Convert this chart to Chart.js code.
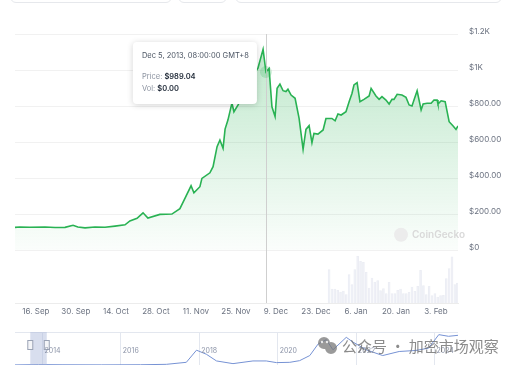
<!DOCTYPE html>
<html>
<head>
<meta charset="utf-8">
<script src="https://cdn.jsdelivr.net/npm/chart.js@4.4.0/dist/chart.umd.min.js"></script>
<style>
  html, body { margin: 0; padding: 0; background: #fff; }
  #wrap { position: relative; width: 508px; height: 365px; overflow: hidden; }
  #priceChart { position: absolute; left: 0; top: 0; }
  #navChart { position: absolute; left: 0; top: 322px; }
  .btn { position: absolute; top: -20px; height: 21px; border: 1px solid #e6e8ec; border-radius: 6px; }
</style>
</head>
<body>
<div id="wrap">
  <div class="btn" style="left:10px; width:160px"></div>
  <div class="btn" style="left:178px; width:47px"></div>
  <div class="btn" style="left:235px; width:265px"></div>
  <canvas id="priceChart" width="508" height="322"></canvas>
  <canvas id="navChart" width="508" height="43"></canvas>
</div>
<script>
// day offsets counted from 16 Sep 2013
const priceDays = [-7.3, -5.6, -2.1, 3.2, 6.7, 10.2, 13, 14.7, 17.2, 20.7, 24.2, 27.7, 31.2, 32.9, 35.4, 37.5, 39.2, 43.4, 47.6, 50.4,
  52.2, 54.3, 55.3, 57.4, 58.1, 60.9, 62, 63.4, 64.4, 65.5, 66.2, 67.2, 68.6, 69.3, 70.7, 73.2, 75.6, 77.7, 79.5, 80.5,
  81.6, 82.6, 83.7, 84.4, 85.4, 86.5, 87.5, 88.2, 89.3, 90.7, 92.1, 93.5, 94.5, 95.6, 96.6, 97.3, 98.7, 100.5, 101.5, 103.6,
  104.7, 105.7, 106.8, 108.5, 109.6, 110.6, 111.3, 112.4, 113.4, 114.8, 116.6, 117.3, 119, 120.1, 121.1, 122.5, 123.6, 124.6, 125.3, 126.4,
  128.1, 129.5, 130.6, 131.6, 132.3, 133.4, 134.8, 135.5, 136.9, 138.3, 139.3, 140.4, 140.7, 141.8, 143.2, 144.6, 146, 147, 147.7];
const prices = [126, 128, 127, 128, 125, 126, 138, 128, 123, 128, 127, 133, 140, 162, 176, 207, 178, 198, 200, 230,
  289, 357, 318, 352, 398, 429, 463, 574, 611, 565, 672, 722, 817, 768, 805, 880, 960, 1010, 1115, 989.04,
  1009, 796, 741, 898, 922, 885, 880, 893, 861, 843, 731, 559, 670, 691, 596, 648, 644, 667, 731, 731,
  718, 756, 750, 768, 824, 870, 917, 930, 824, 837, 856, 898, 856, 837, 852, 833, 811, 837, 837, 865,
  861, 848, 806, 800, 833, 885, 778, 811, 815, 815, 833, 833, 811, 829, 824, 713, 689, 670, 689];

const volDays = [102.6, 103.6, 104.6, 105.6, 106.6, 107.6, 108.6, 109.6, 110.6, 111.6, 112.6, 113.6, 114.6, 115.6, 116.6, 117.6,
  118.6, 119.6, 120.6, 121.6, 122.6, 123.6, 124.6, 125.6, 126.6, 127.6, 128.6, 129.6, 130.6, 131.6, 132.6, 133.6,
  134.6, 135.6, 136.6, 137.6, 138.6, 139.6, 140.6, 141.6, 142.6, 143.6, 144.6, 145.6, 146.6, 147.4];
const volumes = [100, 42, 42, 38, 33, 36, 25, 85, 55, 100, 140, 125, 122, 92, 45, 75,
  63, 67, 37, 43, 28, 62, 28, 28, 38, 42, 28, 28, 32, 48, 35, 50,
  98, 52, 25, 50, 22, 28, 18, 22, 23, 73, 103, 138, 55, 60];

const xTickDays = [0, 14, 28, 42, 56, 70, 84, 98, 112, 126, 140];
const xTickLabels = ['16. Sep', '30. Sep', '14. Oct', '28. Oct', '11. Nov', '25. Nov', '9. Dec', '23. Dec', '6. Jan', '20. Jan', '3. Feb'];
const yTickValues = [0, 200, 400, 600, 800, 1000, 1200];
const yTickLabels = ['$0', '$200.00', '$400.00', '$600.00', '$800.00', '$1K', '$1.2K'];

const hoverIndex = 39;
const tooltipDate = 'Dec 5, 2013, 08:00:00 GMT+8';
const tooltipPrice = '$989.04';
const tooltipVol = '$0.00';

// navigator (whole history)
const navYears = [2013.3, 2013.9, 2014.5, 2015.5, 2016.5, 2017.16, 2017.67, 2017.93, 2018.18, 2018.44, 2018.86, 2019.37, 2019.71, 2019.97,
  2020.31, 2020.56, 2020.82, 2021.03, 2021.24, 2021.41, 2021.75, 2021.92, 2022.26, 2022.68, 2023.1, 2023.52, 2023.85, 2024.11, 2024.36, 2024.6];
const navValues = [0.2, 0.9, 0.5, 0.3, 0.6, 1.5, 6.1, 33.7, 24.5, 9.2, 3.1, 9.2, 9.2, 5.4,
  6.1, 9.9, 21.5, 47.5, 57.5, 34.5, 62.9, 52.1, 34.5, 21.5, 30.7, 33, 38.3, 69, 65.2, 67.5];
const navTickYears = [2014, 2016, 2018, 2020, 2022, 2024];
const navRange = [2013.69, 2014.11];

const GREEN = 'rgb(41,178,83)';
Chart.defaults.font.family = 'Inter, "Noto Sans", sans-serif';
Chart.defaults.font.size = 8;
Chart.defaults.color = '#6b7280';

/* crosshair, hover dot, watermark and the fixed tooltip */
const overlayPlugin = {
  id: 'overlay',
  afterDatasetsDraw(chart) {
    const { ctx, chartArea, scales } = chart;
    const px = scales.x.getPixelForValue(priceDays[hoverIndex]);
    const py = scales.y.getPixelForValue(prices[hoverIndex]);
    ctx.save();
    ctx.strokeStyle = '#cfcfcf';
    ctx.lineWidth = 1;
    ctx.beginPath();
    ctx.moveTo(Math.round(px) + 0.5, chartArea.top);
    ctx.lineTo(Math.round(px) + 0.5, chartArea.bottom);
    ctx.stroke();
    ctx.fillStyle = 'rgba(41,178,83,0.22)';
    ctx.beginPath();
    ctx.arc(px, py, 6, 0, Math.PI * 2);
    ctx.fill();

    // CoinGecko watermark
    const wy = scales.y.getPixelForValue(85);
    ctx.fillStyle = '#ececec';
    ctx.beginPath();
    ctx.arc(401, wy, 7, 0, Math.PI * 2);
    ctx.fill();
    ctx.fillStyle = '#d9d9d9';
    ctx.font = '600 10px Inter, sans-serif';
    ctx.textBaseline = 'middle';
    ctx.fillText('CoinGecko', 412, wy);
    ctx.restore();
  },
  afterDraw(chart) {
    const { ctx, chartArea, scales } = chart;
    const px = scales.x.getPixelForValue(priceDays[hoverIndex]);
    const w = 124, h = 62;
    const left = px - 9 - w, top = chartArea.top + 8;
    ctx.save();
    ctx.shadowColor = 'rgba(0,0,0,0.18)';
    ctx.shadowBlur = 6;
    ctx.shadowOffsetY = 1;
    ctx.fillStyle = '#fff';
    ctx.beginPath();
    ctx.roundRect(left, top, w, h, 4);
    ctx.fill();
    ctx.shadowColor = 'transparent';
    ctx.textBaseline = 'middle';
    ctx.font = '7.5px Inter, sans-serif';
    ctx.fillStyle = '#4b5563';
    ctx.fillText(tooltipDate, left + 9, top + 13.5);
    ctx.fillStyle = '#8c93a0';
    ctx.fillText('Price: ', left + 9, top + 35);
    let lw = ctx.measureText('Price: ').width;
    ctx.fillStyle = '#1f2937';
    ctx.font = '600 7.5px Inter, sans-serif';
    ctx.fillText(tooltipPrice, left + 9 + lw, top + 35);
    ctx.font = '7.5px Inter, sans-serif';
    ctx.fillStyle = '#8c93a0';
    ctx.fillText('Vol: ', left + 9, top + 47);
    lw = ctx.measureText('Vol: ').width;
    ctx.fillStyle = '#1f2937';
    ctx.font = '600 7.5px Inter, sans-serif';
    ctx.fillText(tooltipVol, left + 9 + lw, top + 47);
    ctx.restore();
  },
};

new Chart(document.getElementById('priceChart'), {
  type: 'line',
  data: {
    datasets: [
      {
        type: 'line',
        data: priceDays.map((d, i) => ({ x: d, y: prices[i] })),
        borderColor: GREEN,
        borderWidth: 1.6,
        pointRadius: 0,
        tension: 0,
        fill: 'origin',
        backgroundColor(context) {
          const { chart } = context;
          if (!chart.chartArea) return 'rgba(41,178,83,0.15)';
          const y = chart.scales.y;
          const g = chart.ctx.createLinearGradient(0, y.getPixelForValue(1150), 0, y.getPixelForValue(0));
          g.addColorStop(0, 'rgba(41,178,83,0.30)');
          g.addColorStop(1, 'rgba(41,178,83,0.02)');
          return g;
        },
        order: 0,
      },
      {
        type: 'bar',
        data: volDays.map((d, i) => ({ x: d, y: volumes[i] })),
        yAxisID: 'yVol',
        backgroundColor: 'rgba(238,240,246,0.7)',
        borderColor: 'rgba(226,229,238,0.7)',
        borderWidth: 0.5,
        barThickness: 2,
        order: 1,
      },
    ],
  },
  options: {
    responsive: false,
    animation: false,
    events: [],
    layout: { padding: { top: 34, left: 15, right: 0, bottom: 0 } },
    plugins: { legend: { display: false }, tooltip: { enabled: false } },
    scales: {
      x: {
        type: 'linear',
        offset: false,
        min: -7.3,
        max: 147.7,
        afterBuildTicks(scale) {
          scale.ticks = xTickDays.map(v => ({ value: v }));
        },
        afterFit(scale) {
          scale.height = 19;
        },
        ticks: {
          autoSkip: false,
          maxRotation: 0,
          padding: 4,
          color: '#6b7280',
          callback: (v, i) => xTickLabels[i],
        },
        grid: { display: false, offset: false, drawTicks: false },
        border: { display: true, color: '#ececec' },
      },
      y: {
        position: 'right',
        min: -294,
        max: 1200,
        afterBuildTicks(scale) {
          scale.ticks = yTickValues.map(v => ({ value: v }));
        },
        afterFit(scale) {
          scale.width = 50;
        },
        ticks: {
          padding: 11,
          labelOffset: -2,
          color: '#6b7280',
          callback: (v, i) => yTickLabels[i],
        },
        grid: { color: '#f1f1f1', drawTicks: false },
        border: { display: false },
      },
      yVol: {
        display: false,
        min: 0,
        max: 806,
      },
    },
  },
  plugins: [overlayPlugin],
});

/* selection window, year labels and the channel watermark */
const navPlugin = {
  id: 'nav',
  afterDraw(chart) {
    const { ctx, chartArea, scales } = chart;
    ctx.save();
    ctx.strokeStyle = '#e3e7ef';
    ctx.lineWidth = 1;
    ctx.beginPath();
    ctx.moveTo(chartArea.left, chartArea.top + 0.5);
    ctx.lineTo(chartArea.right, chartArea.top + 0.5);
    ctx.stroke();

    const x0 = scales.x.getPixelForValue(navRange[0]);
    const x1 = scales.x.getPixelForValue(navRange[1]);
    ctx.fillStyle = 'rgba(168,182,218,0.45)';
    ctx.fillRect(x0, chartArea.top, x1 - x0, chartArea.bottom - chartArea.top);
    [x0, x1].forEach(x => {
      ctx.fillStyle = '#f4f5f8';
      ctx.strokeStyle = '#9aa3b5';
      ctx.fillRect(x - 2.5, chartArea.top + 8.5, 5, 9);
      ctx.strokeRect(x - 2.5, chartArea.top + 8.5, 5, 9);
    });

    ctx.font = '7px Inter, sans-serif';
    ctx.fillStyle = '#8b93a7';
    ctx.textBaseline = 'middle';
    navTickYears.forEach(yr => {
      ctx.fillText(String(yr), scales.x.getPixelForValue(yr) + 2, chartArea.top + 19);
    });

    // channel watermark
    ctx.fillStyle = 'rgba(120,120,120,0.75)';
    ctx.beginPath();
    ctx.arc(324, 21, 6, 0, Math.PI * 2);
    ctx.arc(331, 26, 6, 0, Math.PI * 2);
    ctx.fill();
    ctx.fillStyle = 'rgba(255,255,255,0.8)';
    ctx.beginPath();
    ctx.arc(322, 20, 1.2, 0, Math.PI * 2);
    ctx.arc(327, 20, 1.2, 0, Math.PI * 2);
    ctx.fill();
    ctx.font = '15px "Noto Sans CJK SC", sans-serif';
    ctx.fillStyle = 'rgba(110,110,110,0.8)';
    ctx.fillText('公众号 · 加密市场观察', 342, 24);
    ctx.restore();
  },
};

new Chart(document.getElementById('navChart'), {
  type: 'line',
  data: {
    datasets: [{
      data: navYears.map((yr, i) => ({ x: yr, y: navValues[i] })),
      borderColor: 'rgb(118,146,212)',
      borderWidth: 1,
      pointRadius: 0,
      tension: 0,
    }],
  },
  options: {
    responsive: false,
    animation: false,
    events: [],
    layout: { padding: { top: 10, left: 15, right: 50, bottom: 0 } },
    plugins: { legend: { display: false }, tooltip: { enabled: false } },
    scales: {
      x: {
        type: 'linear',
        min: 2013.3,
        max: 2024.6,
        afterBuildTicks(scale) {
          scale.ticks = navTickYears.map(v => ({ value: v }));
        },
        afterFit(scale) {
          scale.height = 0;
        },
        ticks: { display: false },
        grid: { color: '#e3e7ef', drawTicks: false },
        border: { display: false },
      },
      y: {
        display: false,
        min: 0,
        max: 75,
      },
    },
  },
  plugins: [navPlugin],
});
</script>
</body>
</html>
